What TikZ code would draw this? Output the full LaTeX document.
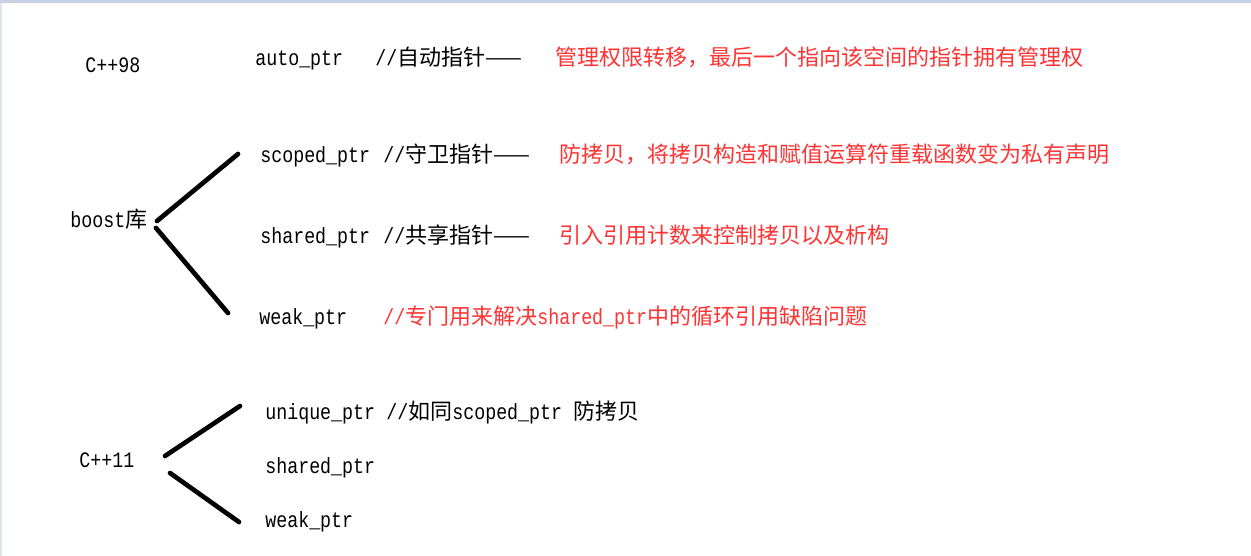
\documentclass[tikz,border=0pt]{standalone}
\usepackage{fontspec}
\usepackage{xcolor}
\setmonofont[FakeStretch=0.833]{Liberation Mono}
\newfontfamily\cjk{Noto Sans CJK SC}
\definecolor{notered}{RGB}{255,51,51}
\definecolor{topband}{RGB}{200,210,228}
\definecolor{leftband}{RGB}{220,228,240}
\newcommand{\zh}[1]{{\cjk #1}}

\begin{document}
\begin{tikzpicture}[x=0.75pt,y=0.75pt,yscale=-1,xscale=1,
	txt/.style={anchor=base west,inner sep=0pt,font=\fontsize{16.5pt}{19pt}\ttfamily},
	red txt/.style={txt,text=notered},
	branch/.style={line width=3.5pt,line cap=round}]
		%set diagram left start at 0, and has height of 556
		\useasboundingbox (0,0) rectangle (1251,556);
		\fill [white] (0,0) rectangle (1251,556);
		\fill [topband] (0,0) rectangle (1251,3);
		\fill [leftband] (0,3) rectangle (2,556);
		
		% Text Node
		\node [txt] (c98) at (85,73) {C++98};
		% Text Node
		\node [txt] (autoptr) at (255,66) {auto\_ptr};
		% Text Node
		\node [txt] (autonote) at (375,66) {//\zh{自动指针——}};
		% Text Node
		\node [red txt] (autodesc) at (555,66) {\zh{管理权限转移，最后一个指向该空间的指针拥有管理权}};
		
		% Text Node
		\node [txt] (boost) at (70,227) {boost\zh{库}};
		% Text Node
		\node [txt] (scoped) at (260,162) {scoped\_ptr};
		% Text Node
		\node [txt] (scopednote) at (383,162) {//\zh{守卫指针——}};
		% Text Node
		\node [red txt] (scopeddesc) at (559,162) {\zh{防拷贝，将拷贝构造和赋值运算符重载函数变为私有声明}};
		% Text Node
		\node [txt] (shared) at (260,243) {shared\_ptr};
		% Text Node
		\node [txt] (sharednote) at (383,243) {//\zh{共享指针——}};
		% Text Node
		\node [red txt] (shareddesc) at (559,243) {\zh{引入引用计数来控制拷贝以及析构}};
		% Text Node
		\node [txt] (weak) at (259,324) {weak\_ptr};
		% Text Node
		\node [red txt] (weaknote) at (383,324) {//\zh{专门用来解决}shared\_ptr\zh{中的循环引用缺陷问题}};
		
		% Text Node
		\node [txt] (c11) at (79,467) {C++11};
		% Text Node
		\node [txt] (unique) at (265,419) {unique\_ptr};
		% Text Node
		\node [txt] (uniquenote) at (386,419) {//\zh{如同}scoped\_ptr \zh{防拷贝}};
		% Text Node
		\node [txt] (shared11) at (265,473) {shared\_ptr};
		% Text Node
		\node [txt] (weak11) at (265,527) {weak\_ptr};
		
		%Straight Lines
		\coordinate (boostup) at (157,221);
		\coordinate (boostdown) at (156,228);
		\coordinate (scopedend) at (238,154);
		\coordinate (weakend) at (228,313);
		\draw [branch] (boostup) -- (scopedend);
		\draw [branch] (boostdown) -- (weakend);
		%Straight Lines
		\coordinate (c11up) at (165,456);
		\coordinate (c11down) at (170,473);
		\coordinate (uniqueend) at (240,406);
		\coordinate (weak11end) at (239,522);
		\draw [branch] (c11up) -- (uniqueend);
		\draw [branch] (c11down) -- (weak11end);
\end{tikzpicture}
\end{document}
